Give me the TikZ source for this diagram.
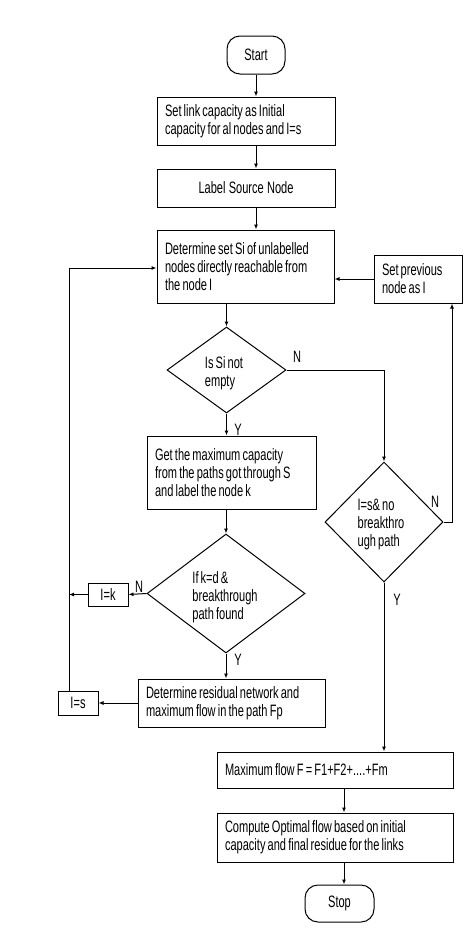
\documentclass[tikz,border=0pt]{standalone}
\usepackage{fontspec}
\setmainfont[FakeStretch=0.67,WordSpace=0.7]{Liberation Sans}
\usetikzlibrary{shapes.geometric,arrows.meta}
\begin{document}
\begin{tikzpicture}[x=1pt,y=-1pt,
  every node/.style={font=\fontsize{16.5}{18}\selectfont,execute at begin node={\spaceskip=0pt\xspaceskip=0pt\relax}},
  box/.style={draw,line width=1pt,rectangle,inner xsep=8pt,inner ysep=0pt,align=left},
  term/.style={draw,line width=1pt,rectangle,rounded corners=13pt,inner sep=0pt,align=center},
  dec/.style={draw,line width=1pt,diamond,inner sep=0pt,align=left},
  small/.style={draw,line width=1pt,rectangle,inner sep=0pt,align=center},
  lbl/.style={inner sep=0pt},
  conn/.style={line width=1pt,-{Latex[length=5pt,width=4pt]}}]
\useasboundingbox (0,0) rectangle (474,948);
\fill[white] (0,0) rectangle (474,948);
% nodes
\node[term,minimum width=58pt,minimum height=38pt] (start) at (256,55) {Start};
\node[box,minimum width=178pt,minimum height=48pt,text width=162pt] (b1) at (246,121) {Set link capacity as Initial\\capacity for al nodes and I=s};
\node[box,minimum width=178pt,minimum height=38pt,text width=162pt,align=center] (b2) at (246,188) {Label Source Node};
\node[box,minimum width=177pt,minimum height=73pt,text width=161pt] (b3) at (245.5,266.5) {Determine set Si of unlabelled\\nodes directly reachable from\\the node I};
\node[box,minimum width=88pt,minimum height=48pt,text width=72pt] (prev) at (418,279) {Set previous\\node as I};
\node[dec,minimum width=119pt,minimum height=86pt] (d1) at (226.5,370) {};
\node[lbl,align=left] at (224,373) {Is Si not\\empty};
\node[box,minimum width=169pt,minimum height=73pt,text width=153pt] (b4) at (231.5,472.5) {Get the maximum capacity\\from the paths got through S\\and label the node k};
\node[dec,minimum width=118pt,minimum height=120pt] (d2) at (384,522) {};
\node[lbl,align=left] at (381,524) {I=s\& no\\breakthro\\ugh path};
\node[dec,minimum width=158pt,minimum height=119pt] (d3) at (226,593.5) {};
\node[lbl,align=left] at (225,597) {If k=d \&\\breakthrough\\path found};
\node[small,minimum width=40pt,minimum height=23pt] (ik) at (108,594.5) {I=k};
\node[small,minimum width=40pt,minimum height=24pt] (is) at (78,703) {I=s};
\node[box,minimum width=187pt,minimum height=48pt,text width=171pt] (b5) at (231.5,703) {Determine residual network and\\maximum flow in the path Fp};
\node[box,minimum width=236pt,minimum height=36pt,text width=220pt] (b6) at (335,770) {Maximum flow F = F1+F2+....+Fm};
\node[box,minimum width=236pt,minimum height=49pt,text width=220pt] (b7) at (335,837.5) {Compute Optimal flow based on initial\\capacity and final residue for the links};
\node[term,minimum width=69pt,minimum height=37pt] (stop) at (339.5,903.5) {Stop};
% helper coordinates
\coordinate (xa) at (256,0);
\coordinate (xb) at (344,0);
\coordinate (xr) at (452,0);
\coordinate (xl) at (69,0);
\coordinate (yl) at (0,268);
% connectors
\draw[conn] (start.south) -- (start.south |- b1.north);
\draw[conn] (b1.south -| xa) -- (b2.north -| xa);
\draw[conn] (b2.south -| xa) -- (b3.north -| xa);
\draw[conn] (b3.south -| d1.north) -- (d1.north);
\draw[conn] (d1.south) -- (d1.south |- b4.north);
\draw[conn] (d1.east) -| (d2.north);
\draw[conn] (d2.east) -| (prev.south -| xr);
\draw[conn] (prev.west) -- (prev.west -| b3.east);
\draw[conn] (b4.south -| d3.north) -- (d3.north);
\draw[conn] (d3.west) -- (ik.east);
\draw[conn] (ik.west) -- (ik.west -| xl);
\draw[conn] (d3.south) -- (d3.south |- b5.north);
\draw[conn] (b5.west) -- (b5.west -| is.east);
\draw[conn] (is.north -| xl) -- (xl |- yl) -- (b3.west |- yl);
\draw[conn] (d2.south) -- (d2.south |- b6.north);
\draw[conn] (b6.south -| xb) -- (b7.north -| xb);
\draw[conn] (b7.south -| xb) -- (stop.north -| xb);
% labels
\node[lbl] (ln1) at (297,357) {N};
\node[lbl] (ly1) at (238,430) {Y};
\node[lbl] (ln2) at (435,502) {N};
\node[lbl] (ly2) at (397,600) {Y};
\node[lbl] (ln3) at (139,587) {N};
\node[lbl] (ly3) at (238,660) {Y};
\end{tikzpicture}
\end{document}
